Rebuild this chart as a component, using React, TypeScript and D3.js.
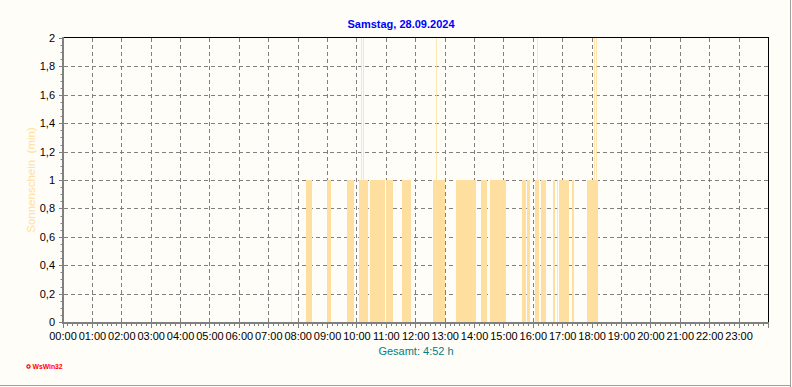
import React, { useEffect } from "react";
import * as d3 from "d3";

const W = 792;
const H = 387;

const title = "Samstag, 28.09.2024";
const yTitle = "Sonnenschein\u00a0\u00a0(min)";
const totalLabel = "Gesamt: 4:52 h";

const hourLabels = [
  "00:00", "01:00", "02:00", "03:00", "04:00", "05:00", "06:00", "07:00",
  "08:00", "09:00", "10:00", "11:00", "12:00", "13:00", "14:00", "15:00",
  "16:00", "17:00", "18:00", "19:00", "20:00", "21:00", "22:00", "23:00",
];

const yTickValues = [0, 0.2, 0.4, 0.6, 0.8, 1, 1.2, 1.4, 1.6, 1.8, 2];
const yTickLabels = ["0", "0,2", "0,4", "0,6", "0,8", "1", "1,2", "1,4", "1,6", "1,8", "2"];

// sunshine intervals (minutes of sunshine per minute)
const sunStart = [
  "07:47", "08:16", "08:59", "09:40", "10:05", "10:27", "11:00", "11:32",
  "12:36", "13:23", "14:14", "14:32", "15:36", "15:48", "16:04", "16:16",
  "16:41", "16:49", "16:53", "17:18", "17:50",
];
const sunEnd = [
  "07:48", "08:29", "09:07", "09:54", "10:23", "10:58", "11:14", "11:51",
  "13:00", "14:02", "14:26", "15:05", "15:46", "15:54", "16:12", "16:25",
  "16:45", "16:51", "17:12", "17:24", "18:11",
];
const sunValue = [1, 1, 1, 1, 1, 1, 1, 1, 1, 1, 1, 1, 1, 1, 1, 1, 1, 1, 1, 1, 1];

// single minutes with value 2
const peakTimes = ["10:09", "10:13", "12:42", "16:09", "18:05", "18:08"];
const peakValue = [2, 2, 2, 2, 2, 2];

const toMin = (t: string) => {
  const [h, m] = t.split(":").map(Number);
  return h * 60 + m;
};

const BG = "#FFFDF8";
const BAR = "#FFDF9F";
const GRID = "#808080";
const FONT = "'Liberation Sans', Arial, sans-serif";

export default function App() {
  useEffect(() => {
    document.body.style.margin = "0";
  }, []);

  const x = d3.scaleLinear().domain([0, 1440]).range([63, 768.5]);
  const y = d3.scaleLinear().domain([0, 2]).range([322, 38]);

  const hours = d3.range(0, 24);
  const minorX = d3.range(0, 1441, 10);
  const minorY = d3.range(0, 41).map((i) => i / 20);

  const bars = sunStart.map((s, i) => {
    const a = toMin(s);
    const b = toMin(sunEnd[i]);
    return { x0: x(a), x1: x(b), v: sunValue[i] };
  });
  const peaks = peakTimes.map((t, i) => {
    const a = toMin(t);
    return { x0: x(a), x1: x(a + 1), v: peakValue[i] };
  });

  const thin = (b: { x0: number; x1: number; v: number }, key: string) => (
    <rect
      key={key}
      x={Math.floor(b.x0)}
      y={Math.round(y(b.v))}
      width={1}
      height={y(0) - Math.round(y(b.v))}
      fill={BAR}
      fillOpacity={0.8}
      shapeRendering="crispEdges"
    />
  );

  return (
    <svg
      width={W}
      height={H}
      viewBox={`0 0 ${W} ${H}`}
      style={{ display: "block", position: "absolute", left: 0, top: 0 }}
      fontFamily={FONT}
    >
      <rect x={0} y={0} width={W} height={H} fill={BG} />

      {/* grid */}
      {yTickValues
        .filter((v) => v > 0 && v < 2)
        .map((v) => (
          <line
            key={"hg" + v}
            x1={64}
            x2={768}
            y1={Math.round(y(v)) + 0.5}
            y2={Math.round(y(v)) + 0.5}
            stroke={GRID}
            strokeDasharray="4,3"
          />
        ))}
      {hours
        .filter((h) => h > 0)
        .map((h) => (
          <line
            key={"vg" + h}
            x1={Math.floor(x(h * 60)) + 0.5}
            x2={Math.floor(x(h * 60)) + 0.5}
            y1={38}
            y2={322}
            stroke={GRID}
            strokeDasharray="4,3"
          />
        ))}

      {/* bars */}
      {bars.map((b, i) =>
        b.x1 - b.x0 > 1.5 ? (
          <rect
            key={"b" + i}
            x={b.x0}
            y={y(b.v)}
            width={b.x1 - b.x0}
            height={y(0) - y(b.v)}
            fill={BAR}
            shapeRendering="crispEdges"
          />
        ) : (
          thin(b, "b" + i)
        )
      )}
      {peaks.map((b, i) => thin(b, "p" + i))}

      {/* frame */}
      <line x1={63} x2={769} y1={37.5} y2={37.5} stroke="#000" />
      <line x1={768.5} x2={768.5} y1={37} y2={322} stroke="#000" />
      <rect x={62} y={37} width={2} height={287} fill={GRID} />
      <rect x={62} y={322} width={707} height={2} fill={GRID} />

      {/* y ticks */}
      {minorY.map((v, i) => (
        <line
          key={"yt" + i}
          x1={i % 4 === 0 ? 59 : 60.5}
          x2={62}
          y1={Math.round(y(v)) + 0.5}
          y2={Math.round(y(v)) + 0.5}
          stroke={GRID}
        />
      ))}
      {/* x ticks */}
      {minorX.map((m) => (
        <line
          key={"xt" + m}
          x1={Math.floor(x(m)) + 0.5}
          x2={Math.floor(x(m)) + 0.5}
          y1={324}
          y2={m % 60 === 0 ? 328 : 326}
          stroke={GRID}
        />
      ))}

      {/* labels */}
      {yTickValues.map((v, i) => (
        <text
          key={"yl" + i}
          x={55}
          y={y(v) + 4}
          textAnchor="end"
          fontSize={11}
          fill="#000"
        >
          {yTickLabels[i]}
        </text>
      ))}
      {hours.map((h, i) => (
        <text
          key={"xl" + h}
          x={x(h * 60)}
          y={340}
          textAnchor="middle"
          fontSize={11}
          fill="#000"
        >
          {hourLabels[i]}
        </text>
      ))}

      <text
        x={401}
        y={28}
        textAnchor="middle"
        fontSize={11}
        fontWeight="bold"
        fill="#0000FF"
      >
        {title}
      </text>
      <text x={416} y={355} textAnchor="middle" fontSize={11} fill="#008080">
        {totalLabel}
      </text>
      <text
        transform="translate(35,180) rotate(-90)"
        textAnchor="middle"
        fontSize={11.5}
        fill={BAR}
      >
        {yTitle}
      </text>

      {/* logo */}
      <circle cx={28.5} cy={366.5} r={1.6} fill="none" stroke="#FF0000" strokeWidth={1.2} />
      <text x={32.5} y={369} fontSize={6.8} fontWeight="bold" fill="#FF0000">
        WsWin32
      </text>

      {/* outer border */}
      <line x1={790.5} x2={790.5} y1={0} y2={387} stroke="#A0A0A0" />
      <line x1={0} x2={791} y1={385.5} y2={385.5} stroke="#A0A0A0" />
    </svg>
  );
}
